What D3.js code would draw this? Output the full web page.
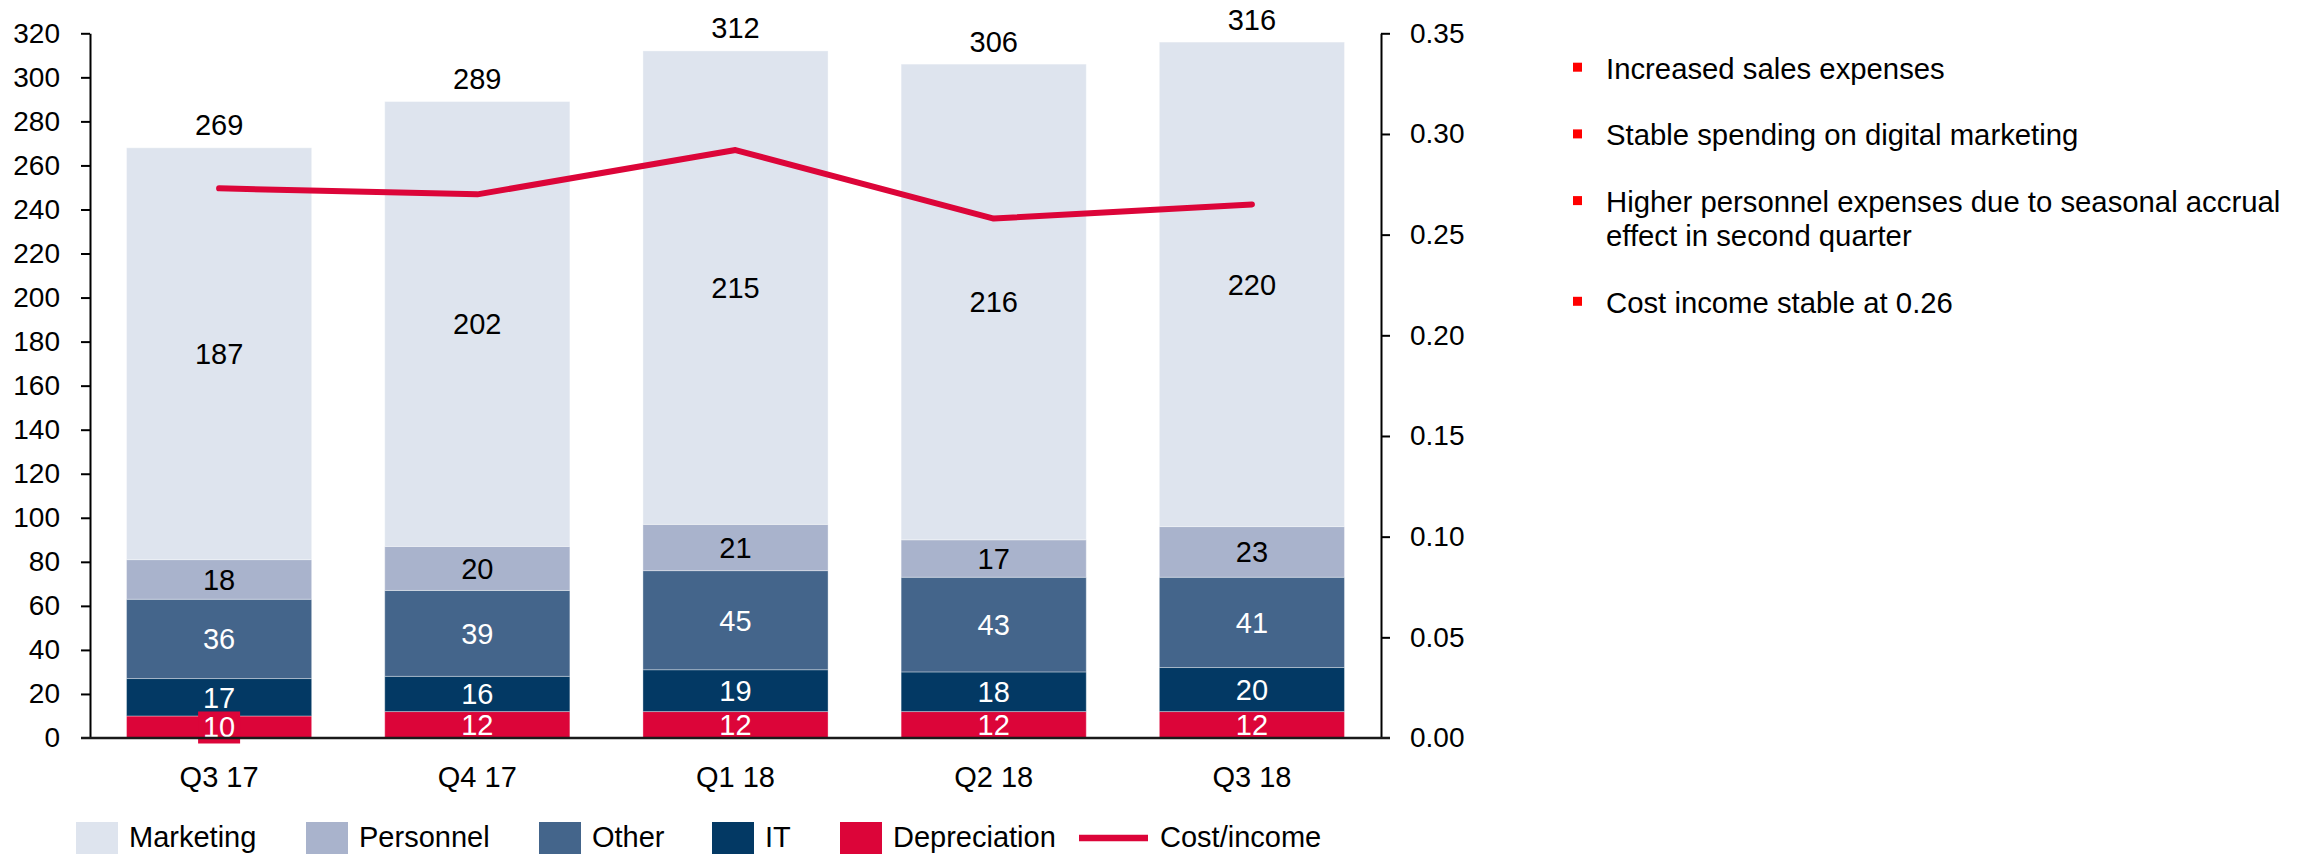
<!DOCTYPE html>
<html>
<head>
<meta charset="utf-8">
<script src="https://cdn.jsdelivr.net/npm/d3@7"></script>
<style>
  body { margin: 0; background: #fff; }
  svg { display: block; font-family: "Liberation Sans", Arial, sans-serif; }
</style>
</head>
<body>
<svg width="2310" height="854"></svg>
<script>
// data
const quarters = ["Q3 17", "Q4 17", "Q1 18", "Q2 18", "Q3 18"];
const depreciation = [10, 12, 12, 12, 12];
const it = [17, 16, 19, 18, 20];
const other = [36, 39, 45, 43, 41];
const personnel = [18, 20, 21, 17, 23];
const marketing = [187, 202, 215, 216, 220];
const totals = [269, 289, 312, 306, 316];
const costIncome = [0.273, 0.270, 0.292, 0.258, 0.265];

const seriesNames = ["Depreciation", "IT", "Other", "Personnel", "Marketing"];
const seriesColors = ["#dc0539", "#033964", "#44658b", "#a9b3cc", "#dee4ee"];
const labelColors = ["#fff", "#fff", "#fff", "#000", "#000"];

const leftTicks = [0, 20, 40, 60, 80, 100, 120, 140, 160, 180, 200, 220, 240, 260, 280, 300, 320];
const rightTicks = [0, 0.05, 0.10, 0.15, 0.20, 0.25, 0.30, 0.35];

const bullets = [
  ["Increased sales expenses"],
  ["Stable spending on digital marketing"],
  ["Higher personnel expenses due to seasonal accrual", "effect in second quarter"],
  ["Cost income stable at 0.26"]
];

const legendItems = ["Marketing", "Personnel", "Other", "IT", "Depreciation", "Cost/income"];

// build rows for the stack
let rows = quarters.map((q, i) => ({
  quarter: q,
  Depreciation: depreciation[i],
  IT: it[i],
  Other: other[i],
  Personnel: personnel[i],
  Marketing: marketing[i]
}));

let svg = d3.select("svg");
let fontSize = 29;

let x = d3.scaleBand()
  .domain(quarters)
  .range([90, 1381])
  .paddingInner(0.283)
  .paddingOuter(0.1415);

let y = d3.scaleLinear().domain([0, 320]).range([738, 33.3]);
let y2 = d3.scaleLinear().domain([0, 0.35]).range([738, 33.3]);

let stack = d3.stack().keys(seriesNames)(rows);

// bars
let layers = svg.append("g")
  .selectAll("g")
  .data(stack)
  .enter()
  .append("g")
  .attr("fill", (d, i) => seriesColors[i]);

layers.selectAll("rect")
  .data(d => d)
  .enter()
  .append("rect")
  .attr("x", d => x(d.data.quarter))
  .attr("width", x.bandwidth())
  .attr("y", d => y(d[1]))
  .attr("height", d => y(d[0]) - y(d[1]))
  .attr("stroke", "rgba(255,255,255,0.35)")
  .attr("stroke-width", 1);

// first depreciation label sits on a red box that hangs below the axis
let firstDep = stack[0][0];
svg.append("rect")
  .attr("x", x(quarters[0]) + x.bandwidth() / 2 - 21)
  .attr("y", (y(firstDep[0]) + y(firstDep[1])) / 2 - 15.5)
  .attr("width", 42)
  .attr("height", 32)
  .attr("fill", seriesColors[0]);

// segment labels
stack.forEach((layer, li) => {
  svg.append("g")
    .selectAll("text")
    .data(layer)
    .enter()
    .append("text")
    .attr("x", d => x(d.data.quarter) + x.bandwidth() / 2)
    .attr("y", d => (y(d[0]) + y(d[1])) / 2)
    .attr("dy", "0.36em")
    .attr("text-anchor", "middle")
    .attr("font-size", fontSize)
    .attr("fill", labelColors[li])
    .text(d => d[1] - d[0]);
});

// totals above bars
svg.append("g")
  .selectAll("text")
  .data(quarters)
  .enter()
  .append("text")
  .attr("x", d => x(d) + x.bandwidth() / 2)
  .attr("y", (d, i) => y(d3.sum(stack, s => s[i][1] - s[i][0])) - 12.5)
  .attr("text-anchor", "middle")
  .attr("font-size", fontSize)
  .attr("fill", "#000")
  .text((d, i) => totals[i]);

// cost/income line
let line = d3.line()
  .x((d, i) => x(quarters[i]) + x.bandwidth() / 2)
  .y(d => y2(d));

svg.append("path")
  .datum(costIncome)
  .attr("d", line)
  .attr("fill", "none")
  .attr("stroke", "#dc0539")
  .attr("stroke-width", 6)
  .attr("stroke-linecap", "round")
  .attr("stroke-linejoin", "round");

// axes
let leftAxis = svg.append("g")
  .attr("transform", "translate(90,0)")
  .call(d3.axisLeft(y).tickValues(leftTicks).tickSize(9).tickPadding(21).tickSizeOuter(0));

let rightAxis = svg.append("g")
  .attr("transform", "translate(1381,0)")
  .call(d3.axisRight(y2).tickValues(rightTicks).tickSize(9).tickPadding(20)
    .tickSizeOuter(0).tickFormat(d3.format(".2f")));

[leftAxis, rightAxis].forEach(a => {
  a.select(".domain").attr("stroke", "#000").attr("stroke-width", 2);
  a.selectAll(".tick line").attr("stroke", "#000").attr("stroke-width", 2);
  a.selectAll(".tick text")
    .attr("font-size", 28)
    .attr("font-family", "Liberation Sans, Arial, sans-serif")
    .attr("fill", "#000");
});
rightAxis.select(".tick:first-of-type line").remove();
leftAxis.select(".tick:first-of-type line").remove();

let bottomAxis = svg.append("g")
  .attr("transform", "translate(0,738)")
  .call(d3.axisBottom(x).tickSize(0).tickPadding(28).tickSizeOuter(0));
bottomAxis.select(".domain").remove();
bottomAxis.selectAll(".tick text")
  .attr("font-size", fontSize)
  .attr("font-family", "Liberation Sans, Arial, sans-serif")
  .attr("fill", "#000");

svg.append("line")
  .attr("x1", 81).attr("x2", 1390)
  .attr("y1", 738).attr("y2", 738)
  .attr("stroke", "#1a1a1a")
  .attr("stroke-width", 2.5);

// bullet points on the right
let bulletTop = 78.7;
let bulletStep = 66.7;
let wrapStep = 34;
let by = bulletTop;
bullets.forEach(lines => {
  svg.append("rect")
    .attr("x", 1573)
    .attr("y", by - 16)
    .attr("width", 9)
    .attr("height", 9)
    .attr("fill", "#ff0000");
  lines.forEach((t, j) => {
    svg.append("text")
      .attr("x", 1606)
      .attr("y", by + j * wrapStep)
      .attr("font-size", 29.3)
      .attr("fill", "#000")
      .text(t);
  });
  by += bulletStep + (lines.length - 1) * wrapStep;
});

// legend
let legendX = [76, 306, 539, 712, 840, 1079];
let legendColors = ["#dee4ee", "#a9b3cc", "#44658b", "#033964", "#dc0539", "#dc0539"];
let legend = svg.append("g");
legendItems.forEach((name, i) => {
  let lx = legendX[i];
  let textX;
  if (name === "Cost/income") {
    legend.append("line")
      .attr("x1", lx).attr("x2", lx + 69)
      .attr("y1", 838).attr("y2", 838)
      .attr("stroke", legendColors[i])
      .attr("stroke-width", 6.5);
    textX = lx + 81;
  } else {
    legend.append("rect")
      .attr("x", lx).attr("y", 822)
      .attr("width", 42).attr("height", 34)
      .attr("fill", legendColors[i]);
    textX = lx + 53;
  }
  legend.append("text")
    .attr("x", textX)
    .attr("y", 847)
    .attr("font-size", fontSize)
    .attr("fill", "#000")
    .text(name);
});
</script>
</body>
</html>
